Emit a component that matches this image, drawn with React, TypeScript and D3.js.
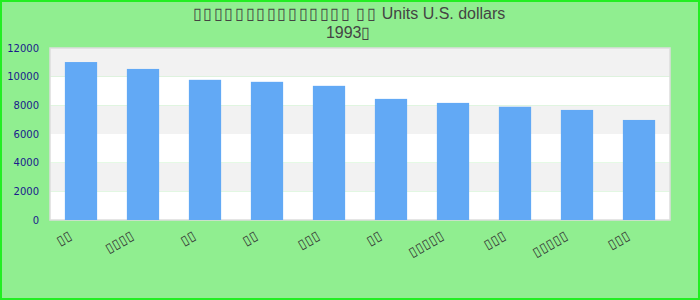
import React from "react";
import * as d3 from "d3";

const T = "\u25af";
const categories = [
  T + T,
  T + T + T + T,
  T + T,
  T + T,
  T + T + T,
  T + T,
  T + T + T + T + T,
  T + T + T,
  T + T + T + T + T,
  T + T + T,
];
const values = [11020, 10540, 9780, 9640, 9360, 8450, 8170, 7900, 7680, 6980];
const yTicks = [0, 2000, 4000, 6000, 8000, 10000, 12000];
const titleBoxes1 = T.repeat(15);
const titleBoxes2 = T + T;
const titleText1 = " Units U.S. dollars";
const titleLine2 = "1993";

const W = 700;
const H = 300;
const M = { left: 50, right: 30, top: 48, bottom: 80 };

export default function App() {
  const x = d3
    .scaleBand<number>()
    .domain(d3.range(categories.length))
    .range([M.left, W - M.right])
    .paddingInner(0.48)
    .paddingOuter(0.24);
  const y = d3.scaleLinear().domain([0, 12000]).range([H - M.bottom, M.top]);
  const bands = yTicks.slice(0, -1).map((t, i) => ({ lo: t, hi: yTicks[i + 1], i }));
  const step = (W - M.left - M.right) / categories.length;
  const tofu = { letterSpacing: "1.6px" } as React.CSSProperties;
  return (
    <svg
      width={W}
      height={H}
      style={{ position: "fixed", left: 0, top: 0 }}
    >
      <rect x={1} y={1} width={W - 2} height={H - 2} fill="#90ee90" stroke="#22ee22" strokeWidth={2} />
      {bands.map((b) => (
        <rect
          key={b.i}
          x={M.left}
          y={y(b.hi)}
          width={W - M.left - M.right}
          height={y(b.lo) - y(b.hi)}
          fill={b.i % 2 === 0 ? "#ffffff" : "#f2f2f2"}
        />
      ))}
      <rect
        x={M.left}
        y={M.top}
        width={W - M.left - M.right}
        height={H - M.bottom - M.top}
        fill="none"
        stroke="#dddddd"
        strokeWidth={1.5}
      />
      {values.map((v, i) => (
        <rect
          key={i}
          x={x(i)}
          y={y(v)}
          width={x.bandwidth()}
          height={y(0) - y(v)}
          fill="#62a9f5"
        />
      ))}
      {yTicks.map((t) => (
        <text
          key={t}
          x={39}
          y={y(t)}
          dy="0.35em"
          textAnchor="end"
          fontFamily="DejaVu Sans"
          fontSize={10}
          fill="#1a1a8c"
        >
          {t}
        </text>
      ))}
      {categories.map((c, i) => {
        const cx = M.left + step * (i + 0.5) - 8;
        const cy = 238;
        return (
          <text
            key={i}
            transform={`translate(${cx},${cy}) rotate(-30)`}
            textAnchor="end"
            fontFamily="DejaVu Sans"
            fontSize={13}
            fill="#333333"
            style={{ letterSpacing: "0.5px" }}
          >
            {c}
          </text>
        );
      })}
      <text
        x={349}
        y={19}
        textAnchor="middle"
        fontFamily="Liberation Sans"
        fontSize={16}
        fill="#444444"
      >
        <tspan style={tofu}>{titleBoxes1}</tspan>
        {" "}
        <tspan style={tofu}>{titleBoxes2}</tspan>
        {titleText1}
      </text>
      <text
        x={349}
        y={38}
        textAnchor="middle"
        fontFamily="Liberation Sans"
        fontSize={16}
        fill="#444444"
      >
        {titleLine2}
        <tspan style={tofu}>{T}</tspan>
      </text>
    </svg>
  );
}
